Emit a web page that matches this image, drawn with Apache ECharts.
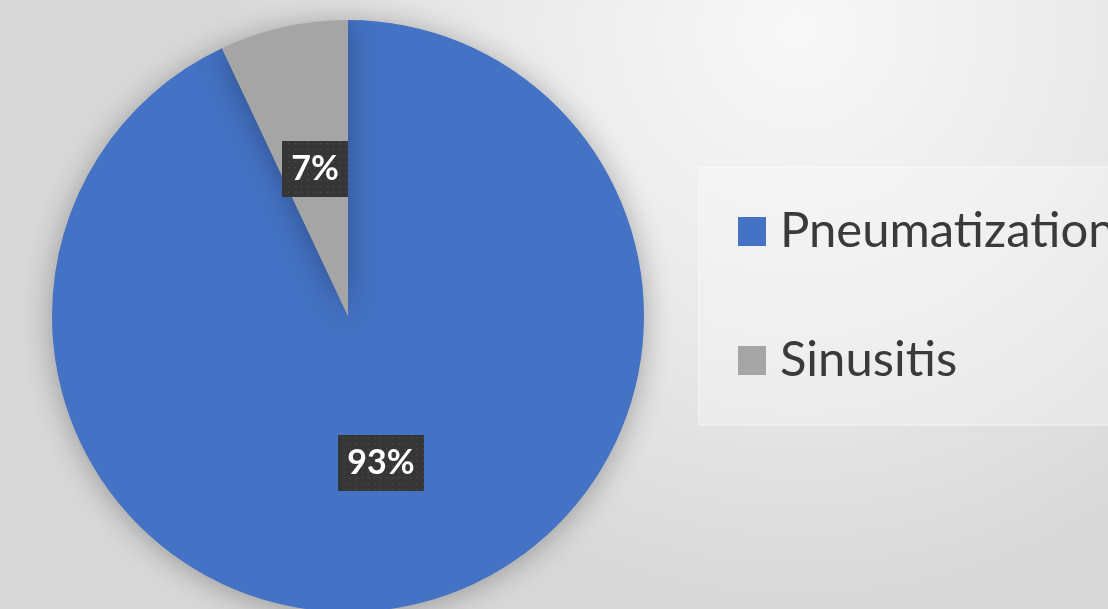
<!DOCTYPE html>
<html>
<head>
<meta charset="utf-8">
<script src="https://cdn.jsdelivr.net/npm/echarts@6/dist/echarts.min.js"></script>
<style>
html,body{margin:0;padding:0;width:1108px;height:609px;overflow:hidden;}
#chart{width:1108px;height:609px;}
</style>
</head>
<body>
<div id="chart"></div>
<script>
var categories = ['Pneumatization', 'Sinusitis'];
var values = [93, 7];
var colors = ['#4472C4', '#A5A5A5'];

function makeDots(w, h) {
  var c = document.createElement('canvas');
  c.width = w; c.height = h;
  var ctx = c.getContext('2d');
  ctx.fillStyle = '#363636';
  ctx.fillRect(0, 0, w, h);
  ctx.fillStyle = '#4a4a4a';
  for (var y = 2; y < h; y += 6) {
    for (var x = ((y / 6) % 2 ? 5 : 2); x < w; x += 6) {
      ctx.fillRect(x, y, 1.5, 1.5);
    }
  }
  return c;
}
var dotSmall = makeDots(61, 55);
var dotLarge = makeDots(84, 59);

var chart = echarts.init(document.getElementById('chart'));
var option = {
  backgroundColor: {
    type: 'radial', x: 0.72, y: 0.05, r: 0.95,
    colorStops: [
      {offset: 0, color: '#f8f8f8'},
      {offset: 0.55, color: '#e9e9e9'},
      {offset: 1, color: '#d8d8d8'}
    ]
  },
  animation: false,
  graphic: [{
    type: 'rect', z: 0,
    shape: {x: 699, y: 167, width: 420, height: 258},
    style: {fill: 'rgba(255,255,255,0.28)', stroke: 'rgba(255,255,255,0.6)', lineWidth: 1}
  }],
  legend: {
    orient: 'vertical',
    left: 733,
    top: 202,
    itemWidth: 28,
    itemHeight: 29,
    itemGap: 80,
    icon: 'rect',
    selectedMode: false,
    data: categories,
    textStyle: {
      fontFamily: 'Lato',
      fontSize: 49,
      color: '#3a3a3a',
      padding: [0, 0, 0, 9]
    }
  },
  series: [{
    type: 'pie',
    center: [348, 316],
    radius: 296,
    startAngle: 90,
    clockwise: true,
    silent: true,
    itemStyle: {
      shadowBlur: 30,
      shadowColor: 'rgba(0,0,0,0.3)',
      shadowOffsetY: 3
    },
    label: {
      show: true,
      position: 'inside',
      formatter: '{d}%',
      fontFamily: 'Lato',
      fontWeight: 'bold',
      fontSize: 34,
      lineHeight: 34,
      color: '#ffffff',
      padding: [11, 9],
      shadowBlur: 6,
      shadowColor: 'rgba(0,0,0,0.5)',
      shadowOffsetX: 1,
      shadowOffsetY: 2
    },
    labelLine: {show: false},
    data: categories.map(function (n, i) {
      return {
        name: n,
        value: values[i],
        itemStyle: {color: colors[i]},
        label: {backgroundColor: {image: i === 0 ? dotLarge : dotSmall}}
      };
    })
  }]
};
chart.setOption(option);
</script>
</body>
</html>
